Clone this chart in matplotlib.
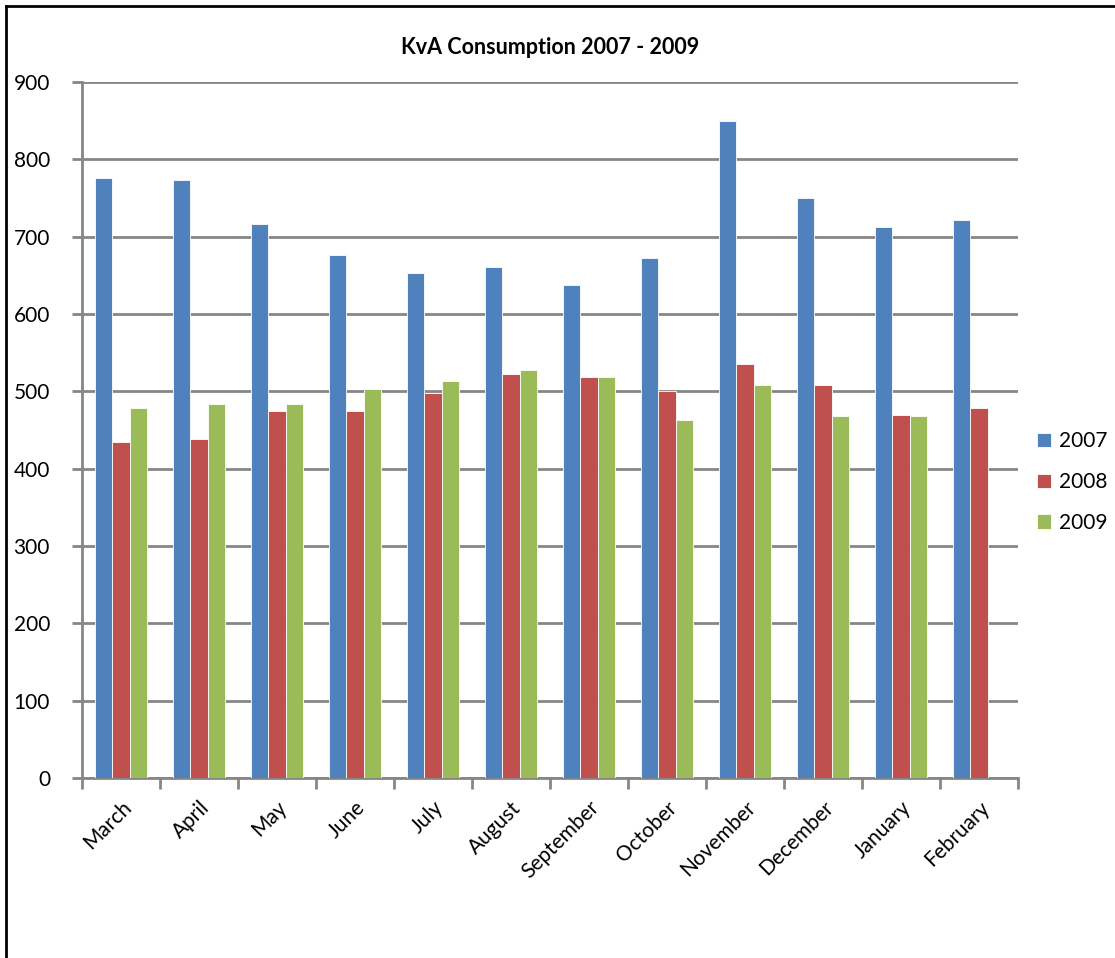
import numpy as np
import matplotlib
matplotlib.use("Agg")
from matplotlib import pyplot as plt
from matplotlib.lines import Line2D

# Monthly KvA readings, financial year order (March to February)
months = ['March', 'April', 'May', 'June', 'July', 'August', 'September',
          'October', 'November', 'December', 'January', 'February']
kva_2007 = [776, 773, 716, 676, 653, 661, 638, 673, 849, 750, 713, 721]
kva_2008 = [434, 439, 474, 474, 498, 523, 518, 500, 535, 508, 470, 478]
kva_2009 = [478, 483, 483, 503, 513, 528, 518, 463, 508, 468, 468, np.nan]

series = [('2007', kva_2007, '#4F81BD'),
          ('2008', kva_2008, '#C0504D'),
          ('2009', kva_2009, '#9BBB59')]

plt.rcParams['font.family'] = ['Lato', 'DejaVu Sans']

fig = plt.figure(figsize=(11.15, 9.58), dpi=100)
ax = fig.add_axes([0.0735, 0.1879, 0.8395, 0.7265])

# gap width 150% like excel: bar = 1 / 4.5 of a category
bar_w = 1 / 4.5
x = np.arange(len(months))
for i, (name, vals, col) in enumerate(series):
    ax.bar(x + (i - 1) * bar_w, vals, width=bar_w, color=col, label=name,
           edgecolor='white', linewidth=0.6, zorder=3)

ax.set_xlim(-0.5, len(months) - 0.5)
ax.set_ylim(0, 900)
ax.set_yticks(range(0, 901, 100))
ax.yaxis.grid(True, color='#868686', linewidth=2, zorder=0)

# category ticks sit on the boundaries
ax.set_xticks(np.arange(-0.5, len(months), 1))
ax.set_xticklabels([])
ax.set_xticks(x, minor=True)
ax.set_xticklabels(months, minor=True, rotation=45, ha='right',
                   rotation_mode='anchor', fontsize=15)
ax.tick_params(axis='x', which='minor', length=0, pad=14)
ax.tick_params(axis='x', which='major', length=8, width=2, color='#868686', direction='out')
ax.tick_params(axis='y', length=7, width=2, color='#868686', labelsize=15, pad=16)

for s in ['top', 'right']:
    ax.spines[s].set_visible(False)
for s in ['left', 'bottom']:
    ax.spines[s].set_color('#868686')
    ax.spines[s].set_linewidth(2)

ax.set_title('KvA Consumption 2007 - 2009', fontsize=15.5, fontweight='bold', pad=20)

ax.legend(loc='center left', bbox_to_anchor=(1.0, 0.425), frameon=False,
          fontsize=15, handlelength=0.7, handleheight=0.7, labelspacing=1.0,
          handletextpad=0.35)

# outer chart frame (left and top edges only are visible)
fig.add_artist(Line2D([6 / 1115, 6 / 1115], [0, 1 - 6 / 958], color='black', linewidth=2))
fig.add_artist(Line2D([6 / 1115, 1], [1 - 6 / 958, 1 - 6 / 958], color='black', linewidth=2))

fig.savefig('out.png', dpi=100)
